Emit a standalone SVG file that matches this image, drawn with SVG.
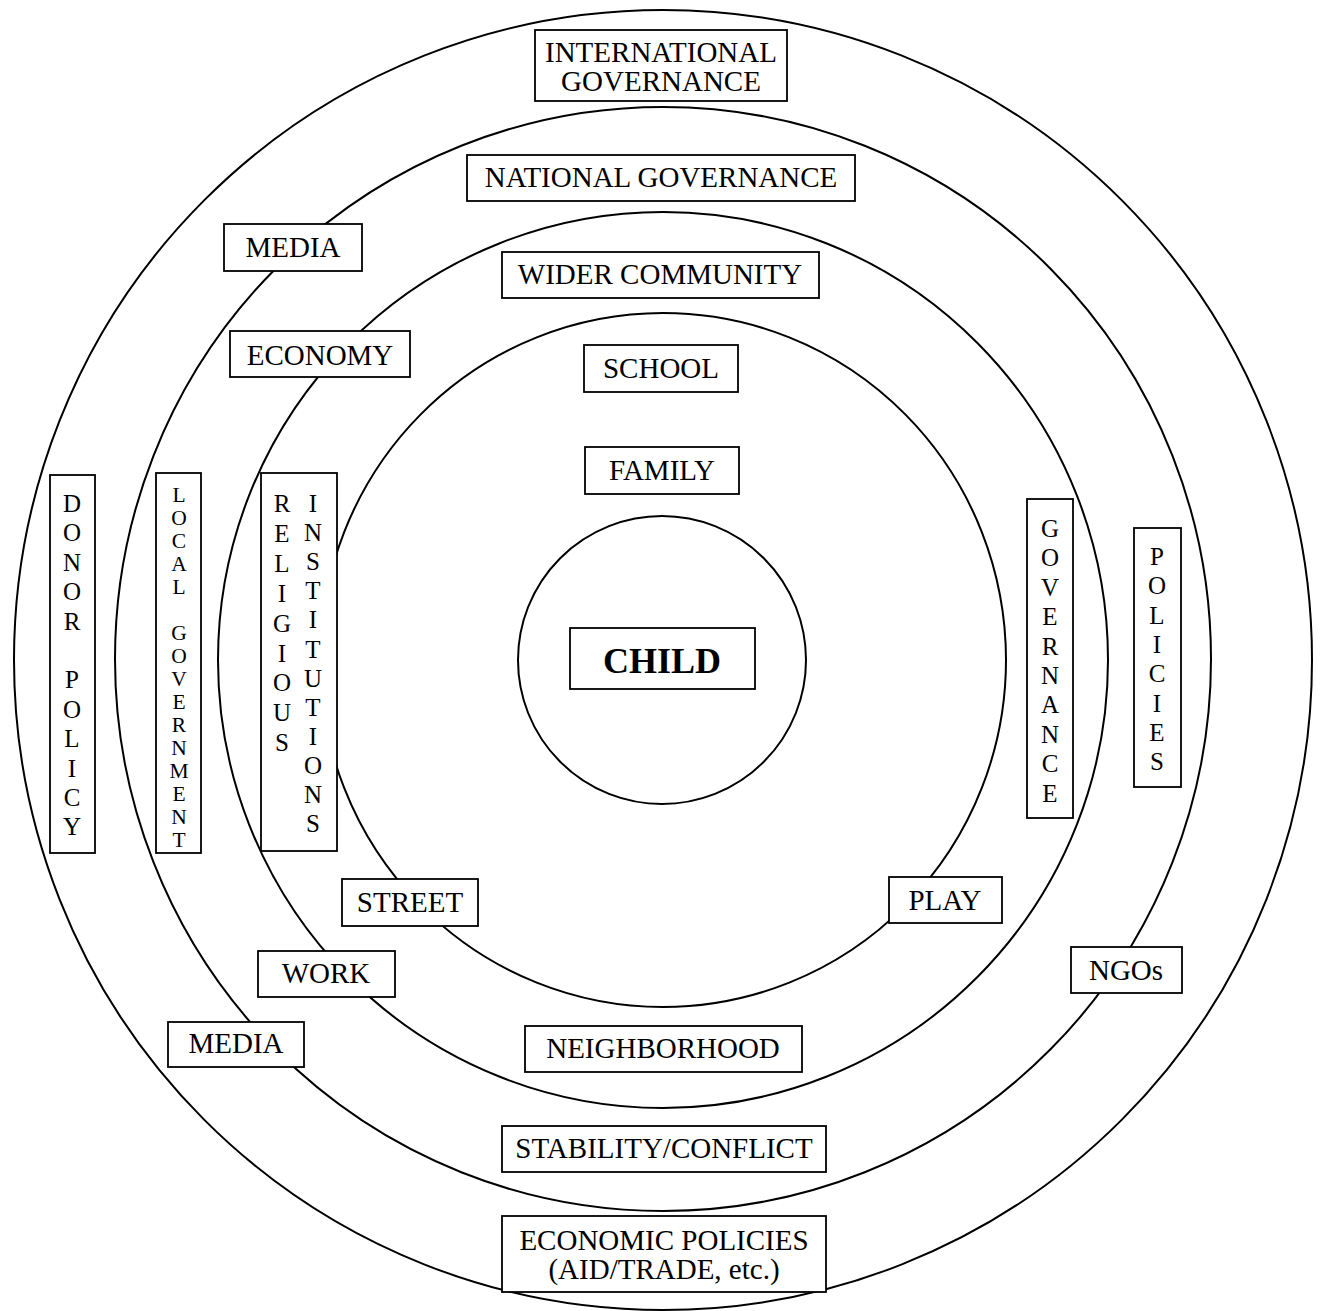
<svg xmlns="http://www.w3.org/2000/svg" width="1321" height="1311" viewBox="0 0 1321 1311">
<style>
.ring{fill:none;stroke:#000;stroke-width:2}
.box{fill:#fff;stroke:#000;stroke-width:1.8}
.t{font-family:"Liberation Serif","Times New Roman",serif;font-size:29px;fill:#000;text-anchor:middle}
.v{font-family:"Liberation Serif","Times New Roman",serif;font-size:25px;fill:#000;text-anchor:middle}
.vs{font-size:21.5px}
.b{font-weight:bold;font-size:36px}
</style>
<rect width="1321" height="1311" fill="#fff"/>
<g id="rings">
<ellipse class="ring" cx="663" cy="660" rx="649" ry="650"/>
<ellipse class="ring" cx="663" cy="659" rx="548" ry="552"/>
<ellipse class="ring" cx="663" cy="660" rx="445" ry="448"/>
<ellipse class="ring" cx="663" cy="660" rx="343" ry="347"/>
<circle class="ring" cx="662" cy="660" r="144"/>
</g>
<g id="connectors"></g>
<g id="international-governance"><rect class="box" x="535" y="30" width="252" height="71"/><text class="t" x="661" y="62">INTERNATIONAL</text><text class="t" x="661" y="91">GOVERNANCE</text></g>
<g id="national-governance"><rect class="box" x="467" y="155" width="388" height="46"/><text class="t" x="661" y="187">NATIONAL GOVERNANCE</text></g>
<g id="media-top"><rect class="box" x="224" y="224" width="138" height="47"/><text class="t" x="293" y="257">MEDIA</text></g>
<g id="wider-community"><rect class="box" x="502" y="252" width="317" height="46"/><text class="t" x="660" y="284">WIDER COMMUNITY</text></g>
<g id="economy"><rect class="box" x="230" y="331" width="180" height="46"/><text class="t" x="320" y="365">ECONOMY</text></g>
<g id="school"><rect class="box" x="584" y="345" width="154" height="47"/><text class="t" x="661" y="378">SCHOOL</text></g>
<g id="family"><rect class="box" x="585" y="447" width="154" height="47"/><text class="t" x="662" y="480">FAMILY</text></g>
<g id="child"><rect class="box" x="570" y="628" width="185" height="61"/><text class="t b" x="662" y="673">CHILD</text></g>
<g id="street"><rect class="box" x="342" y="879" width="136" height="47"/><text class="t" x="410" y="912">STREET</text></g>
<g id="play"><rect class="box" x="889" y="877" width="113" height="46"/><text class="t" x="945" y="910">PLAY</text></g>
<g id="work"><rect class="box" x="258" y="951" width="137" height="46"/><text class="t" x="326" y="983">WORK</text></g>
<g id="ngos"><rect class="box" x="1071" y="947" width="111" height="46"/><text class="t" x="1126" y="980">NGOs</text></g>
<g id="media-bottom"><rect class="box" x="168" y="1022" width="136" height="45"/><text class="t" x="236" y="1053">MEDIA</text></g>
<g id="neighborhood"><rect class="box" x="525" y="1026" width="277" height="46"/><text class="t" x="663" y="1058">NEIGHBORHOOD</text></g>
<g id="stability-conflict"><rect class="box" x="502" y="1126" width="324" height="46"/><text class="t" x="664" y="1158">STABILITY/CONFLICT</text></g>
<g id="economic-policies"><rect class="box" x="502" y="1216" width="324" height="76"/><text class="t" x="664" y="1250">ECONOMIC POLICIES</text><text class="t" x="664" y="1279">(AID/TRADE, etc.)</text></g>
<g id="donor-policy"><rect class="box" x="50" y="475" width="45" height="378"/>
<text class="v"><tspan x="72" y="512">D</tspan><tspan x="72" y="541.4">O</tspan><tspan x="72" y="570.8">N</tspan><tspan x="72" y="600.2">O</tspan><tspan x="72" y="629.6">R</tspan><tspan x="72" y="688.4">P</tspan><tspan x="72" y="717.8">O</tspan><tspan x="72" y="747.2">L</tspan><tspan x="72" y="776.6">I</tspan><tspan x="72" y="806">C</tspan><tspan x="72" y="835.4">Y</tspan></text></g>
<g id="local-government"><rect class="box" x="156" y="473" width="45" height="380"/>
<text class="v vs"><tspan x="179" y="502">L</tspan><tspan x="179" y="525">O</tspan><tspan x="179" y="548">C</tspan><tspan x="179" y="571">A</tspan><tspan x="179" y="594">L</tspan><tspan x="179" y="640">G</tspan><tspan x="179" y="663">O</tspan><tspan x="179" y="686">V</tspan><tspan x="179" y="709">E</tspan><tspan x="179" y="732">R</tspan><tspan x="179" y="755">N</tspan><tspan x="179" y="778">M</tspan><tspan x="179" y="801">E</tspan><tspan x="179" y="824">N</tspan><tspan x="179" y="847">T</tspan></text></g>
<g id="religious-institutions"><rect class="box" x="261" y="473" width="76" height="378"/>
<text class="v"><tspan x="282" y="512">R</tspan><tspan x="282" y="541.9">E</tspan><tspan x="282" y="571.8">L</tspan><tspan x="282" y="601.7">I</tspan><tspan x="282" y="631.6">G</tspan><tspan x="282" y="661.5">I</tspan><tspan x="282" y="691.4">O</tspan><tspan x="282" y="721.3">U</tspan><tspan x="282" y="751.2">S</tspan></text>
<text class="v"><tspan x="313" y="512">I</tspan><tspan x="313" y="541.1">N</tspan><tspan x="313" y="570.2">S</tspan><tspan x="313" y="599.3">T</tspan><tspan x="313" y="628.4">I</tspan><tspan x="313" y="657.5">T</tspan><tspan x="313" y="686.6">U</tspan><tspan x="313" y="715.7">T</tspan><tspan x="313" y="744.8">I</tspan><tspan x="313" y="773.9">O</tspan><tspan x="313" y="803">N</tspan><tspan x="313" y="832.1">S</tspan></text></g>
<g id="governance"><rect class="box" x="1027" y="499" width="46" height="319"/>
<text class="v"><tspan x="1050" y="537">G</tspan><tspan x="1050" y="566.4">O</tspan><tspan x="1050" y="595.8">V</tspan><tspan x="1050" y="625.2">E</tspan><tspan x="1050" y="654.6">R</tspan><tspan x="1050" y="684">N</tspan><tspan x="1050" y="713.4">A</tspan><tspan x="1050" y="742.8">N</tspan><tspan x="1050" y="772.2">C</tspan><tspan x="1050" y="801.6">E</tspan></text></g>
<g id="policies"><rect class="box" x="1134" y="528" width="47" height="259"/>
<text class="v"><tspan x="1157" y="565">P</tspan><tspan x="1157" y="594.3">O</tspan><tspan x="1157" y="623.6">L</tspan><tspan x="1157" y="652.9">I</tspan><tspan x="1157" y="682.2">C</tspan><tspan x="1157" y="711.5">I</tspan><tspan x="1157" y="740.8">E</tspan><tspan x="1157" y="770.1">S</tspan></text></g>
</svg>
